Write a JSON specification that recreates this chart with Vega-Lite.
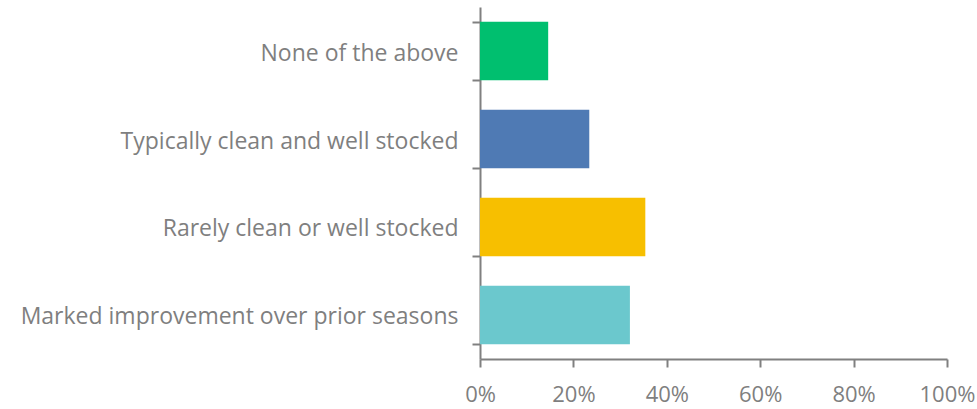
{
  "$schema": "https://vega.github.io/schema/vega-lite/v6.json",
  "autosize": "none",
  "width": 467,
  "height": 352,
  "padding": {"left": 480, "top": 7, "right": 30, "bottom": 50},
  "background": "white",
  "data": {"values": [
    {"category": "None of the above", "value": 0.146},
    {"category": "Typically clean and well stocked", "value": 0.234},
    {"category": "Rarely clean or well stocked", "value": 0.354},
    {"category": "Marked improvement over prior seasons", "value": 0.321}
  ]},
  "mark": {"type": "bar"},
  "encoding": {
    "y": {
      "field": "category", "type": "nominal", "sort": null,
      "scale": {"paddingInner": 0.3333, "paddingOuter": 0.1667},
      "axis": {
        "title": null, "tickBand": "extent", "domainColor": "#808080", "domainWidth": 2,
        "tickColor": "#808080", "tickWidth": 2, "tickSize": 8, "labelPadding": 14,
        "labelFont": "Open Sans", "labelFontSize": 23, "labelColor": "#7f7f7f", "labelLimit": 600,
        "labelOffset": 2
      }
    },
    "x": {
      "field": "value", "type": "quantitative",
      "scale": {"domain": [0, 1], "nice": false},
      "axis": {
        "title": null, "format": ".0%", "values": [0, 0.2, 0.4, 0.6, 0.8, 1], "grid": false,
        "domainColor": "#808080", "domainWidth": 2, "tickColor": "#808080", "tickWidth": 2, "tickSize": 8,
        "labelPadding": 17, "labelFont": "Open Sans", "labelFontSize": 22, "labelColor": "#7f7f7f", "labelFlush": false
      }
    },
    "color": {
      "field": "category", "type": "nominal", "legend": null,
      "scale": {
        "domain": ["None of the above", "Typically clean and well stocked", "Rarely clean or well stocked", "Marked improvement over prior seasons"],
        "range": ["#00bf6f", "#4f7ab4", "#f7bf00", "#6bc8cd"]
      }
    }
  },
  "config": {"view": {"stroke": null}}
}
